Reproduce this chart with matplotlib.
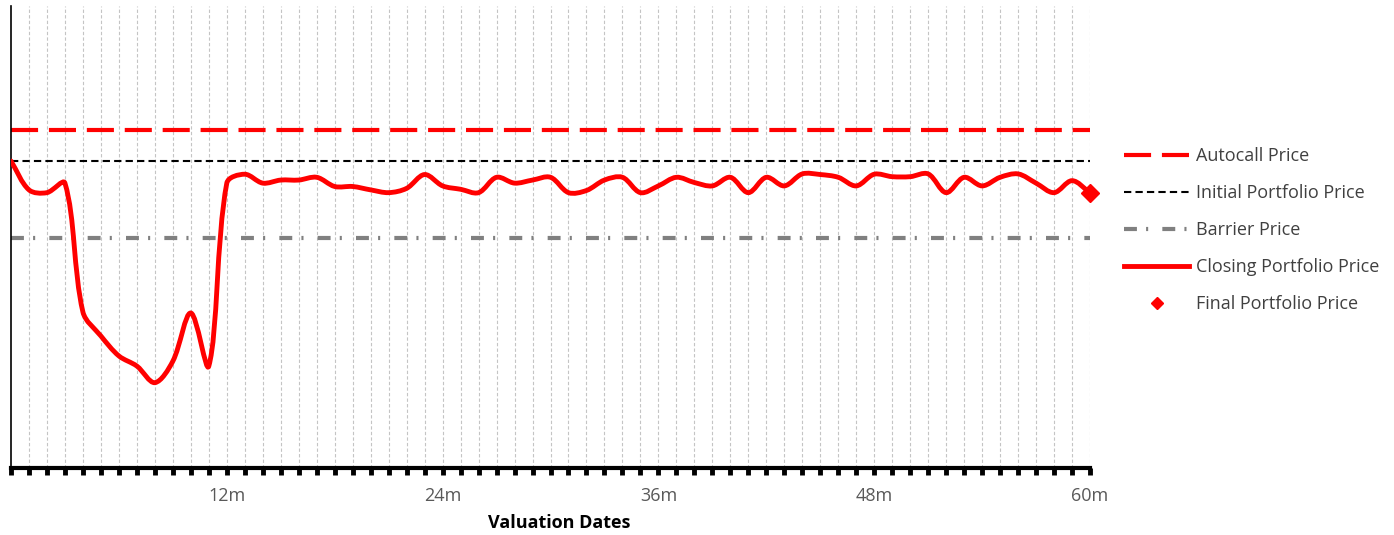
import numpy as np
import matplotlib
matplotlib.use("Agg")
import matplotlib.pyplot as plt
from matplotlib.path import Path
from matplotlib.patches import PathPatch
from matplotlib.lines import Line2D

plt.rcParams["font.family"] = ["Open Sans", "DejaVu Sans"]

# --- data -------------------------------------------------------------------
months = np.arange(0, 61)
closing_price = [
    100.0, 90.6, 89.7, 92.8, 50.8, 43.0, 36.5, 33.2, 27.8, 34.8,
    50.5, 33.2, 92.8, 95.7, 92.8, 93.8, 93.8, 94.7, 91.7, 91.7,
    90.6, 89.7, 91.1, 95.6, 91.9, 90.8, 89.7, 94.7, 92.8, 93.8,
    94.7, 89.7, 90.4, 93.8, 94.7, 89.7, 91.9, 94.7, 93.0, 91.9,
    94.7, 89.7, 94.7, 91.9, 95.8, 95.6, 94.7, 91.9, 95.7, 94.9,
    94.9, 95.8, 89.7, 94.7, 91.9, 94.7, 95.8, 92.8, 89.7, 93.6,
    89.7,
]
autocall_price = 110.0
initial_price = 100.0
barrier_price = 75.0
tick_months = [12, 24, 36, 48, 60]
tick_labels = ["12m", "24m", "36m", "48m", "60m"]

RED = "#ff0000"
GREY = "#808080"
TEXT = "#404040"

AUTOCALL_LS = (0, (6.5, 2.6))
INITIAL_LS = (0, (3.5, 2))
BARRIER_LS = (0, (3.1, 2.2, 0.5, 3.4))


def smooth_path(x, y, yscale, tension=1 / 3):
    """Excel-like smoothed line: Bezier segments, control arms scaled by
    neighbouring chord lengths (measured with the on-screen aspect)."""
    pts = np.column_stack([x, y]).astype(float)
    scr = pts * np.array([1.0, yscale])
    n = len(pts)
    fwd = np.zeros_like(pts)
    bwd = np.zeros_like(pts)
    for i in range(n):
        a = pts[max(i - 1, 0)]
        b = pts[min(i + 1, n - 1)]
        d0 = np.linalg.norm(scr[i] - scr[max(i - 1, 0)])
        d1 = np.linalg.norm(scr[min(i + 1, n - 1)] - scr[i])
        tot = d0 + d1 if d0 + d1 > 0 else 1.0
        t = (b - a) * tension
        fwd[i] = pts[i] + t * d1 / tot
        bwd[i] = pts[i] - t * d0 / tot
    verts = [pts[0]]
    codes = [Path.MOVETO]
    for i in range(n - 1):
        verts += [fwd[i], bwd[i + 1], pts[i + 1]]
        codes += [Path.CURVE4] * 3
    return Path(verts, codes)


fig = plt.figure(figsize=(13.94, 5.35), dpi=100)
ax = fig.add_axes([11 / 1394, 1 - 468 / 535, (1090 - 11) / 1394, (468 - 6) / 535])

# monthly grid
for m in months[1:]:
    ax.axvline(m, color="#c4c4c4", lw=0.8, ls=(0, (3, 2)), zorder=0)

ax.axhline(autocall_price, color=RED, lw=3, ls=AUTOCALL_LS, zorder=2)
ax.axhline(initial_price, color="black", lw=1.5, ls=INITIAL_LS, zorder=2)
ax.axhline(barrier_price, color=GREY, lw=3, ls=BARRIER_LS, zorder=2)

# on-screen: 17.98 px per month, 3.07 px per price unit
ax.add_patch(PathPatch(smooth_path(months, closing_price, 3.07 / 17.98),
                       fill=False, edgecolor=RED, lw=3.5, zorder=3,
                       capstyle="round", joinstyle="round"))
ax.plot(months[-1], closing_price[-1], marker="D", color=RED, ms=9,
        zorder=4, clip_on=False)

ax.set_xlim(0, 60)
ax.set_ylim(0, 150.5)
ax.set_yticks([])
ax.set_xticks(months, minor=True)
ax.set_xticks(tick_months)
ax.set_xticklabels(tick_labels, color="#595959", fontsize=13)
ax.tick_params(axis="x", which="both", direction="out", length=5, width=3.5,
               color="black", pad=9)
ax.set_xlabel("Valuation Dates", fontsize=13, fontweight="bold")
ax.xaxis.set_label_coords((559 - 11) / 1079, -0.099)
ax.xaxis.label.set_va("top")

for side in ("top", "right"):
    ax.spines[side].set_visible(False)
ax.spines["bottom"].set_linewidth(3)
ax.spines["left"].set_linewidth(1.2)

handles = [
    Line2D([], [], color=RED, lw=3, ls=AUTOCALL_LS),
    Line2D([], [], color="black", lw=1.5, ls=INITIAL_LS),
    Line2D([], [], color=GREY, lw=3, ls=BARRIER_LS),
    Line2D([], [], color=RED, lw=3.5),
    Line2D([], [], color=RED, marker="D", ls="none", ms=6),
]
labels = ["Autocall Price", "Initial Portfolio Price", "Barrier Price",
          "Closing Portfolio Price", "Final Portfolio Price"]
leg = fig.legend(handles, labels, loc="upper left",
                 bbox_to_anchor=(1108 / 1394, 1 - 131 / 535),
                 frameon=False, fontsize=13, handlelength=3.6,
                 handletextpad=0.35, labelspacing=1.05)
for t in leg.get_texts():
    t.set_color(TEXT)

fig.savefig("out.png", dpi=100)
